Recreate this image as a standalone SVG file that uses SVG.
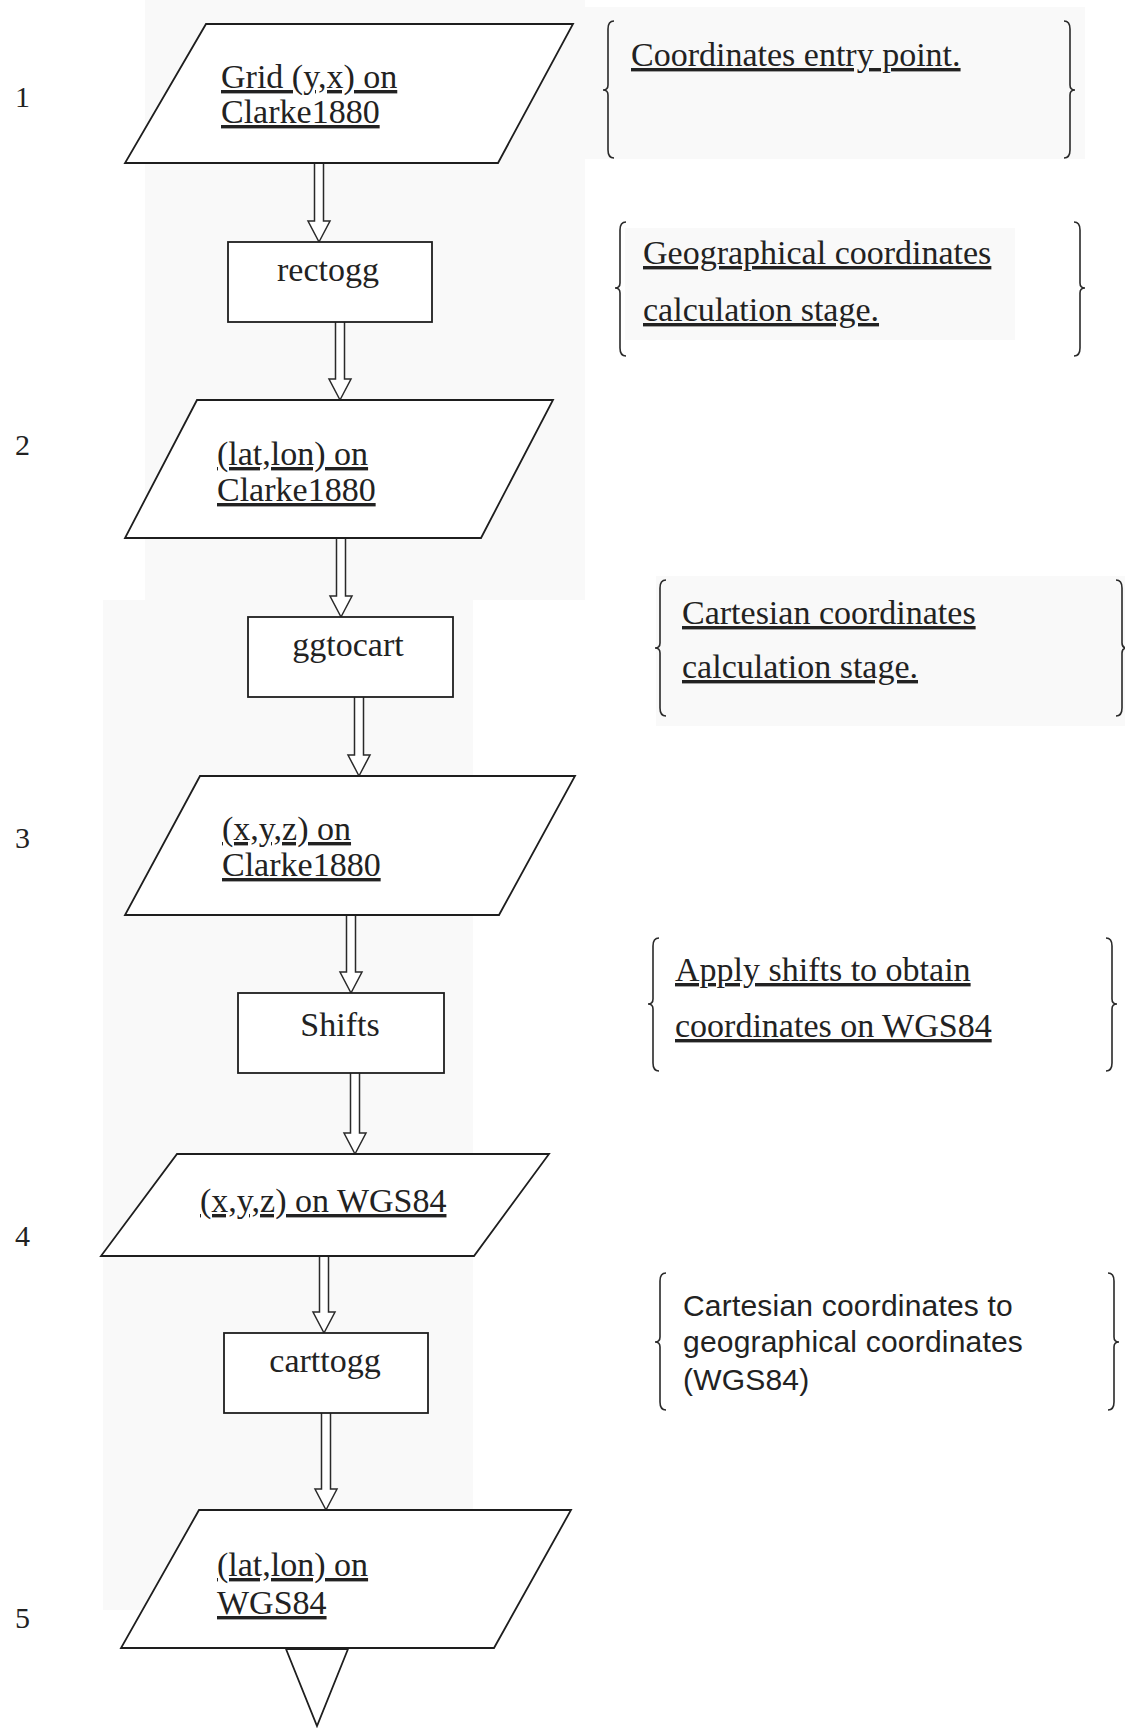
<svg xmlns="http://www.w3.org/2000/svg" width="1125" height="1728" viewBox="0 0 1125 1728">
  <style>
    .shape { fill: #ffffff; stroke: #1e1e1e; stroke-width: 1.8; stroke-linejoin: miter; }
    .arrow { fill: #ffffff; stroke: #2a2a2a; stroke-width: 1.5; }
    .brace { fill: none; stroke: #2a2a2a; stroke-width: 1.6; }
    .panel { fill: #f9f9f9; stroke: none; }
    text { font-family: "Liberation Serif", "Times New Roman", serif; font-size: 34px; fill: #222222; }
    .u { text-decoration: underline; }
    .mid { text-anchor: middle; }
    .num { font-size: 30px; }
    .sans { font-family: "Liberation Sans", Arial, sans-serif; font-size: 30px; letter-spacing: 0.2px; }
  </style>

  <rect width="1125" height="1728" fill="#ffffff"/>

  <!-- faint panels behind the column and the notes -->
  <g id="panels">
    <rect class="panel" x="145" y="0" width="440" height="600"/>
    <rect class="panel" x="103" y="600" width="370" height="1010"/>
    <rect class="panel" x="585" y="7" width="500" height="152"/>
    <rect class="panel" x="625" y="228" width="390" height="112"/>
    <rect class="panel" x="656" y="576" width="469" height="150"/>
  </g>

  <!-- step numbers -->
  <g id="step-numbers">
    <text class="num" x="15" y="107">1</text>
    <text class="num" x="15" y="455">2</text>
    <text class="num" x="15" y="848">3</text>
    <text class="num" x="15" y="1246">4</text>
    <text class="num" x="15" y="1628">5</text>
  </g>

  <!-- connectors: hollow block arrows -->
  <g id="connectors">
    <path class="arrow" d="M314.5,163 V221 H308 L319,242 L330,221 H323.5 V163"/>
    <path class="arrow" d="M335.5,322 V379 H329 L340,400 L351,379 H344.5 V322"/>
    <path class="arrow" d="M336.5,538 V596 H330 L341,617 L352,596 H345.5 V538"/>
    <path class="arrow" d="M354.5,697 V755 H348 L359,776 L370,755 H363.5 V697"/>
    <path class="arrow" d="M346.5,915 V972 H340 L351,993 L362,972 H355.5 V915"/>
    <path class="arrow" d="M350.5,1073 V1133 H344 L355,1154 L366,1133 H359.5 V1073"/>
    <path class="arrow" d="M319.5,1256 V1312 H313 L324,1333 L335,1312 H328.5 V1256"/>
    <path class="arrow" d="M321.5,1413 V1489 H315 L326,1510 L337,1489 H330.5 V1413"/>
  </g>

  <!-- flowchart nodes -->
  <g id="n1">
    <polygon class="shape" points="206,24 573,24 498,163 125,163"/>
    <text class="u" x="221" y="88">Grid (y,x) on</text>
    <text class="u" x="221" y="123">Clarke1880</text>
  </g>
  <g id="rectogg">
    <rect class="shape" x="228" y="242" width="204" height="80"/>
    <text class="mid" x="328" y="281">rectogg</text>
  </g>
  <g id="n2">
    <polygon class="shape" points="197,400 553,400 481,538 125,538"/>
    <text class="u" x="217" y="465">(lat,lon) on</text>
    <text class="u" x="217" y="501">Clarke1880</text>
  </g>
  <g id="ggtocart">
    <rect class="shape" x="248" y="617" width="205" height="80"/>
    <text class="mid" x="348" y="656">ggtocart</text>
  </g>
  <g id="n3">
    <polygon class="shape" points="200,776 575,776 499,915 125,915"/>
    <text class="u" x="222" y="840">(x,y,z) on</text>
    <text class="u" x="222" y="876">Clarke1880</text>
  </g>
  <g id="shifts">
    <rect class="shape" x="238" y="993" width="206" height="80"/>
    <text class="mid" x="340" y="1036">Shifts</text>
  </g>
  <g id="n4">
    <polygon class="shape" points="177,1154 549,1154 474,1256 101,1256"/>
    <text class="u" x="200" y="1212">(x,y,z) on WGS84</text>
  </g>
  <g id="carttogg">
    <rect class="shape" x="224" y="1333" width="204" height="80"/>
    <text class="mid" x="325" y="1372">carttogg</text>
  </g>
  <g id="n5">
    <polygon class="shape" points="199,1510 571,1510 494,1648 121,1648"/>
    <text class="u" x="217" y="1576">(lat,lon) on</text>
    <text class="u" x="217" y="1614">WGS84</text>
  </g>
  <g id="end">
    <polygon class="shape" points="286,1649 348,1649 317,1726"/>
  </g>

  <!-- side notes with braces -->
  <g id="note1">
    <path class="brace" d="M614,21 Q608,21 608,29 L608,85 Q608,90 603,90 Q608,90 608,95 L608,150 Q608,158 614,158"/>
    <path class="brace" d="M1064,21 Q1070,21 1070,29 L1070,85 Q1070,90 1075,90 Q1070,90 1070,95 L1070,150 Q1070,158 1064,158"/>
    <text class="u" x="631" y="66">Coordinates entry point.</text>
  </g>
  <g id="note2">
    <path class="brace" d="M626,222 Q620,222 620,230 L620,283 Q620,288 615,288 Q620,288 620,293 L620,348 Q620,356 626,356"/>
    <path class="brace" d="M1074,222 Q1080,222 1080,230 L1080,283 Q1080,288 1085,288 Q1080,288 1080,293 L1080,348 Q1080,356 1074,356"/>
    <text class="u" x="643" y="264">Geographical coordinates</text>
    <text class="u" x="643" y="321">calculation stage.</text>
  </g>
  <g id="note3">
    <path class="brace" d="M666,580 Q660,580 660,588 L660,643 Q660,648 655,648 Q660,648 660,653 L660,708 Q660,716 666,716"/>
    <path class="brace" d="M1116,580 Q1122,580 1122,588 L1122,643 Q1122,648 1127,648 Q1122,648 1122,653 L1122,708 Q1122,716 1116,716"/>
    <text class="u" x="682" y="624">Cartesian coordinates</text>
    <text class="u" x="682" y="678">calculation stage.</text>
  </g>
  <g id="note4">
    <path class="brace" d="M659,938 Q653,938 653,946 L653,999 Q653,1004 648,1004 Q653,1004 653,1009 L653,1063 Q653,1071 659,1071"/>
    <path class="brace" d="M1106,938 Q1112,938 1112,946 L1112,999 Q1112,1004 1117,1004 Q1112,1004 1112,1009 L1112,1063 Q1112,1071 1106,1071"/>
    <text class="u" x="675" y="981">Apply shifts to obtain</text>
    <text class="u" x="675" y="1037">coordinates on WGS84</text>
  </g>
  <g id="note5">
    <path class="brace" d="M666,1273 Q660,1273 660,1281 L660,1337 Q660,1342 655,1342 Q660,1342 660,1347 L660,1402 Q660,1410 666,1410"/>
    <path class="brace" d="M1108,1273 Q1114,1273 1114,1281 L1114,1337 Q1114,1342 1119,1342 Q1114,1342 1114,1347 L1114,1402 Q1114,1410 1108,1410"/>
    <text class="sans" x="683" y="1316">Cartesian coordinates to</text>
    <text class="sans" x="683" y="1352">geographical coordinates</text>
    <text class="sans" x="683" y="1390">(WGS84)</text>
  </g>
</svg>
